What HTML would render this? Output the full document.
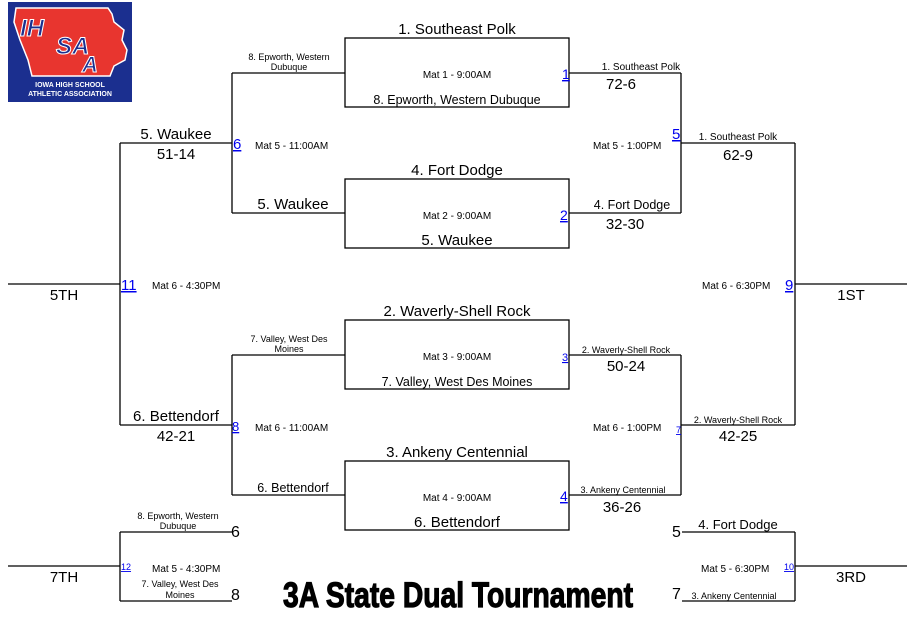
<!DOCTYPE html>
<html><head><meta charset="utf-8"><style>
html,body{margin:0;padding:0;background:#fff;width:917px;height:642px;overflow:hidden}
svg{display:block}
text{font-family:"Liberation Sans",Arial,sans-serif;fill:#000}
.L{font-size:15px}
.S{font-size:10px}
.B{fill:#0000ee;text-decoration:underline}
</style></head><body>
<svg width="917" height="642" viewBox="0 0 917 642">
<!-- logo -->
<rect x="8" y="2" width="124" height="100" fill="#1b2f8f"/>
<path d="M16 8 L108 8 L112 14 L114 22 L124 30 L122 40 L127 50 L125 60 L114 66 L110 76 L32 76 L28 60 L20 40 L14 22 Z" fill="#e8352f" stroke="#fff" stroke-width="1.5"/>
<text x="20" y="36" style="font-size:24px;font-weight:bold;font-style:italic;fill:#1b2f8f;stroke:#fff;stroke-width:1">IH</text>
<text x="56" y="54" style="font-size:24px;font-weight:bold;font-style:italic;fill:#1b2f8f;stroke:#fff;stroke-width:1">SA</text>
<text x="82" y="72" style="font-size:22px;font-weight:bold;font-style:italic;fill:#1b2f8f;stroke:#fff;stroke-width:1">A</text>
<text x="70" y="87" text-anchor="middle" style="font-size:7px;font-weight:bold;fill:#fff">IOWA HIGH SCHOOL</text>
<text x="70" y="96" text-anchor="middle" style="font-size:7px;font-weight:bold;fill:#fff">ATHLETIC ASSOCIATION</text>

<g stroke="#000" stroke-width="1.3" fill="none">
<rect x="345" y="38" width="224" height="69"/>
<rect x="345" y="179" width="224" height="69"/>
<rect x="345" y="320" width="224" height="69"/>
<rect x="345" y="461" width="224" height="69"/>
<path d="M232 73H345M232 213H345M232 73V213M120 143H232"/>
<path d="M232 355H345M232 495H345M232 355V495M120 425H232"/>
<path d="M120 143V425M8 284H120"/>
<path d="M569 73H681M569 213H681M681 73V213M681 143H795"/>
<path d="M569 355H681M569 495H681M681 355V495M681 425H795"/>
<path d="M795 143V425M795 284H907"/>
<path d="M120 532H232M120 601H232M120 532V601M8 566H120"/>
<path d="M682 532H795M682 601H795M795 532V601M795 566H907"/>
</g>

<!-- boxes -->
<text class="L" x="457" y="34" text-anchor="middle">1. Southeast Polk</text>
<text class="S" x="457" y="78" text-anchor="middle">Mat 1 - 9:00AM</text>
<text class="S" x="457" y="104" text-anchor="middle" style="font-size:12.5px">8. Epworth, Western Dubuque</text>
<text class="L" x="457" y="175" text-anchor="middle">4. Fort Dodge</text>
<text class="S" x="457" y="219" text-anchor="middle">Mat 2 - 9:00AM</text>
<text class="L" x="457" y="245" text-anchor="middle">5. Waukee</text>
<text class="L" x="457" y="316" text-anchor="middle">2. Waverly-Shell Rock</text>
<text class="S" x="457" y="360" text-anchor="middle">Mat 3 - 9:00AM</text>
<text class="S" x="457" y="386" text-anchor="middle" style="font-size:12.5px">7. Valley, West Des Moines</text>
<text class="L" x="457" y="457" text-anchor="middle">3. Ankeny Centennial</text>
<text class="S" x="457" y="501" text-anchor="middle">Mat 4 - 9:00AM</text>
<text class="L" x="457" y="527" text-anchor="middle">6. Bettendorf</text>
<text class="L B" x="562" y="79" style="font-size:14px">1</text>
<text class="L B" x="560" y="220" style="font-size:14px">2</text>
<text class="L B" x="562" y="361" style="font-size:11px">3</text>
<text class="L B" x="560" y="501" style="font-size:14px">4</text>

<!-- left -->
<text class="S" x="289" y="60" text-anchor="middle" style="font-size:9px">8. Epworth, Western</text>
<text class="S" x="289" y="70" text-anchor="middle" style="font-size:9px">Dubuque</text>
<text class="L" x="293" y="209" text-anchor="middle">5. Waukee</text>
<text class="L" x="176" y="139" text-anchor="middle">5. Waukee</text>
<text class="L" x="176" y="159" text-anchor="middle">51-14</text>
<text class="L B" x="233" y="149">6</text>
<text class="S" x="255" y="149">Mat 5 - 11:00AM</text>
<text class="S" x="289" y="342" text-anchor="middle" style="font-size:9px">7. Valley, West Des</text>
<text class="S" x="289" y="352" text-anchor="middle" style="font-size:9px">Moines</text>
<text class="S" x="293" y="492" text-anchor="middle" style="font-size:12.5px">6. Bettendorf</text>
<text class="L" x="176" y="421" text-anchor="middle">6. Bettendorf</text>
<text class="L" x="176" y="441" text-anchor="middle">42-21</text>
<text class="L B" x="232" y="431" style="font-size:13px">8</text>
<text class="S" x="255" y="431">Mat 6 - 11:00AM</text>
<text class="L" x="64" y="300" text-anchor="middle">5TH</text>
<text class="L B" x="121" y="290">11</text>
<text class="S" x="152" y="289">Mat 6 - 4:30PM</text>

<!-- right -->
<text class="S" x="641" y="70" text-anchor="middle">1. Southeast Polk</text>
<text class="L" x="621" y="89" text-anchor="middle">72-6</text>
<text class="S" x="632" y="209" text-anchor="middle" style="font-size:12.5px">4. Fort Dodge</text>
<text class="L" x="625" y="229" text-anchor="middle">32-30</text>
<text class="L B" x="672" y="139">5</text>
<text class="S" x="593" y="149">Mat 5 - 1:00PM</text>
<text class="S" x="738" y="140" text-anchor="middle">1. Southeast Polk</text>
<text class="L" x="738" y="160" text-anchor="middle">62-9</text>
<text class="S" x="626" y="353" text-anchor="middle" style="font-size:9px">2. Waverly-Shell Rock</text>
<text class="L" x="626" y="371" text-anchor="middle">50-24</text>
<text class="S" x="623" y="493" text-anchor="middle" style="font-size:9px">3. Ankeny Centennial</text>
<text class="L" x="622" y="512" text-anchor="middle">36-26</text>
<text class="L B" x="676" y="433" style="font-size:9px">7</text>
<text class="S" x="593" y="431">Mat 6 - 1:00PM</text>
<text class="S" x="738" y="423" text-anchor="middle" style="font-size:9px">2. Waverly-Shell Rock</text>
<text class="L" x="738" y="441" text-anchor="middle">42-25</text>
<text class="L B" x="785" y="290">9</text>
<text class="S" x="702" y="289">Mat 6 - 6:30PM</text>
<text class="L" x="851" y="300" text-anchor="middle">1ST</text>

<!-- bottom left -->
<text class="S" x="178" y="519" text-anchor="middle" style="font-size:9px">8. Epworth, Western</text>
<text class="S" x="178" y="529" text-anchor="middle" style="font-size:9px">Dubuque</text>
<text class="L" x="231" y="537" style="font-size:16px">6</text>
<text class="S" x="152" y="572">Mat 5 - 4:30PM</text>
<text class="S" x="180" y="587" text-anchor="middle" style="font-size:9px">7. Valley, West Des</text>
<text class="S" x="180" y="598" text-anchor="middle" style="font-size:9px">Moines</text>
<text class="L" x="231" y="600" style="font-size:16px">8</text>
<text class="L B" x="121" y="570" style="font-size:9px">12</text>
<text class="L" x="64" y="582" text-anchor="middle">7TH</text>

<!-- bottom right -->
<text class="L" x="672" y="537" style="font-size:16px">5</text>
<text class="L" x="738" y="529" text-anchor="middle" style="font-size:13px">4. Fort Dodge</text>
<text class="S" x="701" y="572">Mat 5 - 6:30PM</text>
<text class="L B" x="784" y="570" style="font-size:9px">10</text>
<text class="L" x="672" y="599" style="font-size:16px">7</text>
<text class="S" x="734" y="599" text-anchor="middle" style="font-size:9px">3. Ankeny Centennial</text>
<text class="L" x="851" y="582" text-anchor="middle">3RD</text>

<text x="458" y="607" text-anchor="middle" textLength="350" lengthAdjust="spacingAndGlyphs" style="font-size:35px;font-weight:bold;stroke:#000;stroke-width:1.2">3A State Dual Tournament</text>
</svg>
</body></html>
